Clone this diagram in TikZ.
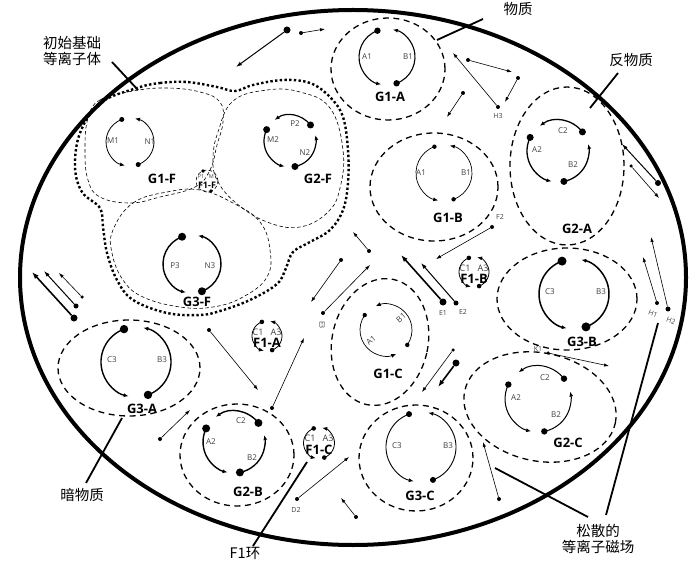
\documentclass[tikz,border=0pt]{standalone}
\usepackage{fontspec}
\usetikzlibrary{arrows.meta,calc}
\newfontfamily\cjk{Noto Sans CJK SC}
\newfontfamily\lab{Open Sans}
\newcommand\gloopTwo[6]{%
  \begin{scope}[shift={(#1,#2)}]
  \draw[line width=#5,looptip] (#4+110:#3) arc[start angle=#4+110,end angle=#4+258,radius=#3];
  \draw[line width=#5,looptip] (#4-70:#3) arc[start angle=#4-70,end angle=#4+78,radius=#3];
  \fill (#4+110:#3) circle[radius=#6];
  \fill (#4-70:#3) circle[radius=#6];
  \end{scope}}
\newcommand\gloopThree[5]{%
  \begin{scope}[shift={(#1,#2)}]
  \draw[line width=#4,looptip] (38:#3) arc[start angle=38,end angle=126,radius=#3];
  \draw[line width=#4,looptip] (154:#3) arc[start angle=154,end angle=258,radius=#3];
  \draw[line width=#4,looptip] (-79:#3) arc[start angle=-79,end angle=13,radius=#3];
  \fill (38:#3) circle[radius=#5];
  \fill (154:#3) circle[radius=#5];
  \fill (-79:#3) circle[radius=#5];
  \end{scope}}
\begin{document}
\begin{tikzpicture}[x=1pt,y=1pt,
  looptip/.style={-{Latex[length=5pt,width=4pt]}},
  src/.style={circle,fill=black,inner sep=0pt,minimum size=#1},
  src/.default=3.5pt,
  athin/.style={-{Latex[length=5pt,width=3.4pt]},line width=0.6pt},
  amed/.style={-{Latex[length=6pt,width=4pt]},line width=1pt},
  athick/.style={-{Latex[length=7pt,width=5pt]},line width=1.6pt},
  bigring/.style={dash pattern=on 6pt off 4.5pt, line width=1.3pt},
  finering/.style={dash pattern=on 3.5pt off 2.5pt, line width=0.6pt},
  plasma/.style={dash pattern=on 2.4pt off 2.3pt, line width=2.4pt},
  leader/.style={line width=1.8pt},
  glab/.style={font=\lab\bfseries\fontsize{13}{14}\selectfont,inner sep=0pt},
  flab/.style={font=\lab\bfseries\fontsize{13}{14}\selectfont,inner sep=0pt},
  slab/.style={font=\lab\fontsize{8}{9}\selectfont,text=black!75,inner sep=0pt},
  tlab/.style={font=\lab\fontsize{7}{8}\selectfont,text=black!75,inner sep=0pt},
  cnlab/.style={font=\cjk\fontsize{14.5}{16}\selectfont,align=center,inner sep=0pt},
]
\useasboundingbox (0,0) rectangle (690,-569);
\fill[white] (0,0) rectangle (690,-569);

% main ellipse
\draw[line width=4pt] (353,-277.5) ellipse [x radius=333, y radius=267.5];

% plasma body boundary
\draw[plasma] plot[smooth cycle,tension=0.6] coordinates {(137,-88) (160,-83) (187,-82) (217,-87) (235,-91) (253,-85) (283,-80) (310,-83) (330,-97) (343,-117) (348,-150) (348,-183) (343,-210) (330,-230) (310,-242) (293,-252) (286,-268) (277,-284) (250,-300) (220,-311) (200,-315) (167,-313) (133,-300) (117,-280) (107,-253) (103,-227) (100,-208) (82,-192) (75,-167) (80,-133) (100,-103)};

% fine dashed regions
\draw[finering] plot[smooth cycle,tension=0.7] coordinates {(88,-118) (100,-100) (133,-91) (167,-88) (200,-92) (220,-102) (223,-122) (217,-145) (210,-170) (195,-187) (160,-197) (130,-203) (100,-197) (88,-180) (85,-150)};
\draw[finering] plot[smooth cycle,tension=0.7] coordinates {(233,-101) (267,-90) (300,-92) (330,-108) (343,-150) (340,-188) (328,-212) (300,-227) (267,-222) (236,-203) (217,-180) (213,-158) (218,-132)};
\draw[finering] plot[smooth cycle,tension=0.7] coordinates {(113,-230) (133,-203) (167,-192) (200,-190) (233,-203) (260,-222) (270,-250) (267,-277) (243,-297) (213,-307) (180,-307) (143,-297) (123,-280) (112,-253)};

% group rings
\draw[bigring] (388,-69) ellipse [x radius=57, y radius=51];
\draw[bigring] (434,-187) ellipse [x radius=64, y radius=54];
\draw[bigring] (567,-166) ellipse [x radius=57, y radius=79];
\draw[bigring] (567,-299) ellipse [x radius=70, y radius=51];
\draw[bigring,rotate around={-12:(540,-407)}] (540,-407) ellipse [x radius=77, y radius=54];
\draw[bigring] (416,-458) ellipse [x radius=57, y radius=53];
\draw[bigring,rotate around={-12:(380,-342)}] (380,-342) ellipse [x radius=48, y radius=64];
\draw[bigring] (129,-368) ellipse [x radius=71, y radius=48];
\draw[bigring] (237,-455) ellipse [x radius=57, y radius=51];

% loops
\gloopTwo{130}{-142}{24}{0}{0.8pt}{2.5}
\gloopThree{290}{-141}{26}{1.2pt}{3.5}
\gloopTwo{192}{-264}{29}{0}{1.4pt}{4}
\gloopTwo{387}{-57}{28}{0}{1.1pt}{3.2}
\gloopTwo{444}{-173}{28}{0}{0.7pt}{2.2}
\gloopTwo{386}{-330}{26}{35}{0.7pt}{2.2}
\gloopThree{558}{-151}{31}{1.3pt}{3.5}
\gloopTwo{574}{-294}{35}{0}{1.5pt}{4.5}
\gloopThree{538}{-399}{33}{1pt}{3.2}
\gloopTwo{421}{-447}{35}{0}{0.9pt}{3}
\gloopTwo{136}{-362}{35}{0}{1.4pt}{4.2}
\gloopThree{234}{-442}{31}{1.4pt}{4}
\gloopTwo{267}{-336}{15}{0}{0.8pt}{2.3}
\gloopTwo{474}{-272}{15}{0}{0.8pt}{2.3}
\gloopTwo{319}{-443}{15.5}{0}{0.8pt}{2.3}

% F1-F
\draw[finering] (207,-181) circle[radius=11];
\fill (203,-171) circle[radius=1.8];
\fill (211,-191) circle[radius=1.8];

% loop labels
\node[slab] (m1) at (113,-141) {M1};
\node[slab] (n1) at (150,-142) {N1};
\node[glab] (g1f) at (162,-179) {G1-F};
\node[slab] (p2) at (295,-124) {P2};
\node[slab] (m2) at (273,-140) {M2};
\node[slab] (n2) at (305,-153) {N2};
\node[glab] (g2f) at (318,-179) {G2-F};
\node[font=\lab\fontsize{5.5}{6}\selectfont,text=black!75,inner sep=0pt] (p1f) at (201,-177) {P1};
\node[font=\lab\fontsize{5.5}{6}\selectfont,text=black!75,inner sep=0pt] (m1f) at (213,-177) {M1};
\node[font=\lab\bfseries\fontsize{9}{10}\selectfont,inner sep=0pt] (f1f) at (207,-185) {F1-F};
\node[slab] (p3) at (175,-266) {P3};
\node[slab] (n3) at (210,-266) {N3};
\node[glab] (g3f) at (197,-302) {G3-F};
\node[slab] (a1a) at (367,-57) {A1};
\node[slab] (b1a) at (408,-57) {B1};
\node[glab] (g1a) at (390,-97) {G1-A};
\node[slab] (a1b) at (421,-173) {A1};
\node[slab] (b1b) at (466,-173) {B1};
\node[glab] (g1b) at (448,-218) {G1-B};
\node[slab] (c2a) at (563,-131) {C2};
\node[slab] (a2a) at (537,-150) {A2};
\node[slab] (b2a) at (573,-165) {B2};
\node[glab] (g2a) at (577,-229) {G2-A};
\node[slab] (c3b) at (550,-292) {C3};
\node[slab] (b3b) at (601,-292) {B3};
\node[glab] (g3b) at (582,-342) {G3-B};
\node[slab] (c2c) at (545,-378) {C2};
\node[slab] (a2c) at (516,-398) {A2};
\node[slab] (b2c) at (556,-415) {B2};
\node[glab] (g2c) at (568,-443) {G2-C};
\node[slab,rotate=40] (a1c) at (371,-340) {A1};
\node[slab,rotate=40] (b1c) at (401,-318) {B1};
\node[glab] (g1c) at (388,-374) {G1-C};
\node[slab] (c3c) at (397,-446) {C3};
\node[slab] (b3c) at (448,-446) {B3};
\node[glab] (g3c) at (420,-496) {G3-C};
\node[slab] (c3a) at (112,-360) {C3};
\node[slab] (b3a) at (162,-360) {B3};
\node[glab] (g3a) at (142,-409) {G3-A};
\node[slab] (c2b) at (241,-421) {C2};
\node[slab] (a2b) at (211,-442) {A2};
\node[slab] (b2b) at (252,-458) {B2};
\node[glab] (g2b) at (248,-492) {G2-B};
\node[slab,font=\lab\fontsize{9}{10}\selectfont] (c1fa) at (258,-332) {C1};
\node[slab,font=\lab\fontsize{9}{10}\selectfont] (a3fa) at (276,-332) {A3};
\node[flab] (f1a) at (267,-343) {F1-A};
\node[slab,font=\lab\fontsize{9}{10}\selectfont] (c1fb) at (465,-268) {C1};
\node[slab,font=\lab\fontsize{9}{10}\selectfont] (a3fb) at (483,-268) {A3};
\node[flab] (f1b) at (474,-279) {F1-B};
\node[slab,font=\lab\fontsize{9}{10}\selectfont] (c1fc) at (310,-438) {C1};
\node[slab,font=\lab\fontsize{9}{10}\selectfont] (a3fc) at (328,-438) {A3};
\node[flab] (f1c) at (319,-450) {F1-C};

% free particles / field lines
\node[src=7pt] (t1) at (287,-30) {};
\coordinate (t1e) at (236,-67);
\draw[amed] (t1) -- (t1e);
\node[src=4pt] (t2) at (301,-33) {};
\coordinate (t2e) at (325,-29);
\draw[athin] (t2) -- (t2e);

\node[src=4pt] (h3) at (498,-107) {};
\node[tlab] (h3l) at (498,-116) {H3};
\coordinate (h3e) at (453,-53);
\draw[athin] (h3) -- (h3e);
\node[src=4pt] (h3a) at (468,-60) {};
\coordinate (h3ae) at (512,-72);
\draw[athin] (h3a) -- (h3ae);
\node[src=4pt] (h3b) at (518,-78) {};
\coordinate (h3be) at (505,-102);
\draw[athin] (h3b) -- (h3be);
\node[src=4pt] (h3c) at (463,-93) {};
\coordinate (h3ce) at (447,-117);
\draw[athin] (h3c) -- (h3ce);

\node[src=6pt] (r1) at (658,-183) {};
\coordinate (r1e) at (622,-144);
\draw[amed] (r1) -- (r1e);
\node[src=3.5pt] (r2) at (631,-166) {};
\coordinate (r2e) at (659,-198);
\draw[athin] (r2) -- (r2e);

\node[src=4pt] (f2) at (492,-227) {};
\node[tlab] (f2l) at (500,-217) {F2};
\coordinate (f2e) at (436,-259);
\draw[athin] (f2) -- (f2e);

\node[src=4pt] (p1) at (369,-251) {};
\coordinate (p1e) at (353,-232);
\draw[athin] (p1) -- (p1e);
\node[src=4pt] (p2d) at (341,-260) {};
\coordinate (p2e) at (311,-302);
\draw[athin] (p2d) -- (p2e);
\node[src=4pt] (e3) at (323,-313) {};
\node[tlab,rotate=-90] (e3l) at (322,-325) {E3};
\coordinate (e3e) at (370,-265);
\draw[athin] (e3) -- (e3e);

\node[src=7pt] (e1) at (443,-302) {};
\node[tlab] (e1l) at (443,-313) {E1};
\coordinate (e1e) at (401,-255);
\draw[athick] (e1) -- (e1e);
\node[src=5pt] (e2) at (456,-303) {};
\node[tlab] (e2l) at (463,-312) {E2};
\coordinate (e2e) at (421,-263);
\draw[amed] (e2) -- (e2e);

\node[src=4pt] (h1) at (657,-303) {};
\node[tlab,rotate=-20] (h1l) at (653,-314) {H1};
\coordinate (h1e) at (643,-257);
\draw[athin] (h1) -- (h1e);
\node[src=5pt] (h2) at (668,-309) {};
\node[tlab,rotate=-20] (h2l) at (671,-321) {H2};
\coordinate (h2e) at (651,-237);
\draw[athin] (h2) -- (h2e);

\node[src=3.5pt] (k1) at (548,-353) {};
\node[tlab] (k1l) at (538,-349) {K1};
\coordinate (k1e) at (609,-366);
\draw[athin] (k1) -- (k1e);

\node[src=3.5pt] (q1) at (453,-350) {};
\coordinate (q1e) at (422,-392);
\draw[athin] (q1) -- (q1e);
\node[src=7pt] (q2) at (456,-363) {};
\coordinate (q2e) at (438,-387);
\draw[athick] (q2) -- (q2e);

\node[src=4pt] (s1) at (356,-517) {};
\coordinate (s1e) at (341,-498);
\draw[athin] (s1) -- (s1e);
\node[src=4pt] (s2) at (499,-499) {};
\coordinate (s2e) at (483,-442);
\draw[athin] (s2) -- (s2e);

\node[src=7pt] (l1) at (74,-318) {};
\coordinate (l1e) at (32,-272);
\draw[athick] (l1) -- (l1e);
\node[src=5pt] (l2) at (76,-306) {};
\coordinate (l2e) at (44,-271);
\draw[amed] (l2) -- (l2e);
\node[src=3.5pt] (l3) at (82,-297) {};
\coordinate (l3e) at (59,-273);
\draw[athin] (l3) -- (l3e);

\node[src=4pt] (u1) at (209,-330) {};
\coordinate (u1e) at (258,-390);
\draw[athin] (u1) -- (u1e);
\node[src=4pt] (u2) at (272,-408) {};
\coordinate (u2e) at (304,-338);
\draw[athin] (u2) -- (u2e);
\node[src=4pt] (u3) at (160,-439) {};
\coordinate (u3e) at (190,-410);
\draw[athin] (u3) -- (u3e);

\node[src=4pt] (d2) at (297,-499) {};
\node[tlab] (d2l) at (296,-510) {D2};
\coordinate (d2e) at (349,-457);
\draw[athin] (d2) -- (d2e);

% captions and leaders
\node[cnlab] (cap1) at (72,-51) {初始基础\\等离子体};
\coordinate (ld1a) at (112,-62); \coordinate (ld1b) at (138,-90);
\draw[leader] (ld1a) -- (ld1b);
\node[cnlab] (cap2) at (518,-9) {物质};
\coordinate (ld2a) at (437,-40); \coordinate (ld2b) at (483,-19);
\draw[leader] (ld2a) -- (ld2b);
\node[cnlab] (cap3) at (631,-60) {反物质};
\coordinate (ld3a) at (590,-108); \coordinate (ld3b) at (618,-73);
\draw[leader] (ld3a) -- (ld3b);
\node[cnlab] (cap4) at (82,-495) {暗物质};
\coordinate (ld4a) at (122,-418); \coordinate (ld4b) at (86,-483);
\draw[leader] (ld4a) -- (ld4b);
\node[cnlab] (cap5) at (245,-553) {F1\cjk 环};
\coordinate (ld5a) at (307,-462); \coordinate (ld5b) at (253,-546);
\draw[leader] (ld5a) -- (ld5b);
\node[cnlab] (cap6) at (598,-539) {松散的\\等离子磁场};
\coordinate (ld6a) at (658,-323); \coordinate (ld6b) at (606,-515);
\draw[leader] (ld6a) -- (ld6b);
\coordinate (ld7a) at (495,-468); \coordinate (ld7b) at (588,-517);
\draw[leader] (ld7a) -- (ld7b);
\end{tikzpicture}
\end{document}
